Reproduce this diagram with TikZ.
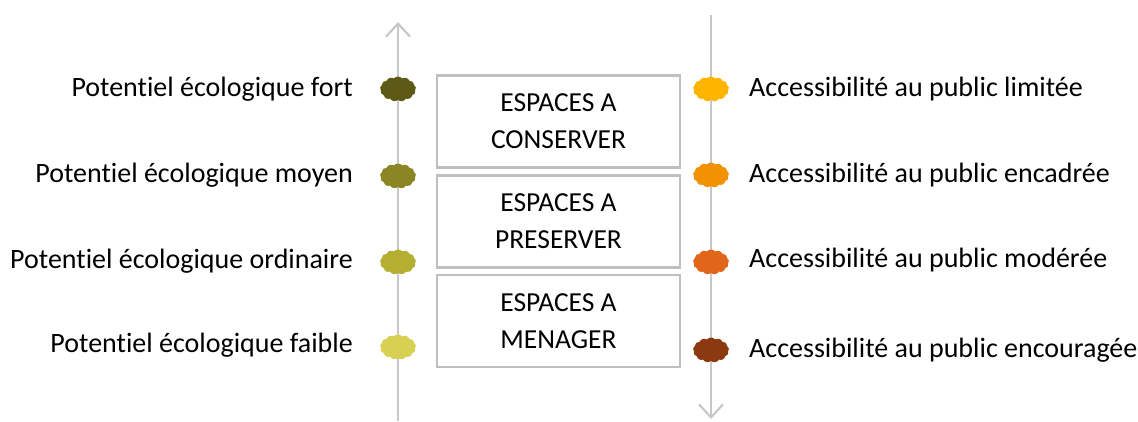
\documentclass[tikz,border=0pt]{standalone}
\usepackage{fontspec}
\setmainfont[Ligatures=NoCommon,RawFeature={-liga;-dlig}]{Carlito}
\usetikzlibrary{arrows.meta,shapes.symbols}
\definecolor{axisgray}{HTML}{C8C8C8}
\definecolor{boxgray}{HTML}{BFBFBF}
\definecolor{ecoA}{HTML}{5C5A14}
\definecolor{ecoB}{HTML}{8A8624}
\definecolor{ecoC}{HTML}{B4AF30}
\definecolor{ecoD}{HTML}{D8D052}
\definecolor{accA}{HTML}{FFB400}
\definecolor{accB}{HTML}{F39200}
\definecolor{accC}{HTML}{E2661A}
\definecolor{accD}{HTML}{8A3A0E}
\tikzset{
  axis/.style={draw=axisgray, line width=2.6pt, -{Straight Barb[length=13pt,width=24pt,line width=2.2pt]}},
  blob/.style={cloud, cloud puffs=13, cloud puff arc=100, aspect=1.5, minimum width=36pt, minimum height=25pt, inner sep=0pt, fill=#1, draw=none},
  espace/.style={draw=boxgray, line width=2.6pt, minimum width=243pt, minimum height=92pt, align=center, font=\fontsize{27.5}{37}\selectfont, inner sep=0pt},
  lbl/.style={font=\fontsize{28}{33}\selectfont, inner sep=0pt},
}
\begin{document}
\begin{tikzpicture}[x=1pt,y=-1pt]
\useasboundingbox (0,0) rectangle (1138,421);
% axes
\coordinate (la0) at (398,421);
\coordinate (la1) at (398,22);
\coordinate (ra0) at (711,15);
\coordinate (ra1) at (711,419);
\draw[axis] (la0) -- (la1);
\draw[axis] (ra0) -- (ra1);
% boxes
\node[espace] (b1) at (558.5,121.5) {ESPACES A\\CONSERVER};
\node[espace] (b2) at (558.5,221.5) {ESPACES A\\PRESERVER};
\node[espace] (b3) at (558.5,321) {ESPACES A\\MENAGER};
% left blobs
\node[blob=ecoA] (l1) at (398,89) {};
\node[blob=ecoB] (l2) at (398,176) {};
\node[blob=ecoC] (l3) at (398,262) {};
\node[blob=ecoD] (l4) at (398,347) {};
% right blobs
\node[blob=accA] (r1) at (711,89) {};
\node[blob=accB] (r2) at (711,175) {};
\node[blob=accC] (r3) at (711,262) {};
\node[blob=accD] (r4) at (711,350) {};
% left labels
\node[lbl, anchor=east] (tl1) at (353,89) {Potentiel écologique fort};
\node[lbl, anchor=east] (tl2) at (353,175) {Potentiel écologique moyen};
\node[lbl, anchor=east] (tl3) at (353,261) {Potentiel écologique ordinaire};
\node[lbl, anchor=east] (tl4) at (353,345) {Potentiel écologique faible};
% right labels
\node[lbl, anchor=west] (tr1) at (749,89) {Accessibilité au public limitée};
\node[lbl, anchor=west] (tr2) at (749,175) {Accessibilité au public encadrée};
\node[lbl, anchor=west] (tr3) at (749,260) {Accessibilité au public modérée};
\node[lbl, anchor=west] (tr4) at (749,350) {Accessibilité au public encouragée};
\end{tikzpicture}
\end{document}
